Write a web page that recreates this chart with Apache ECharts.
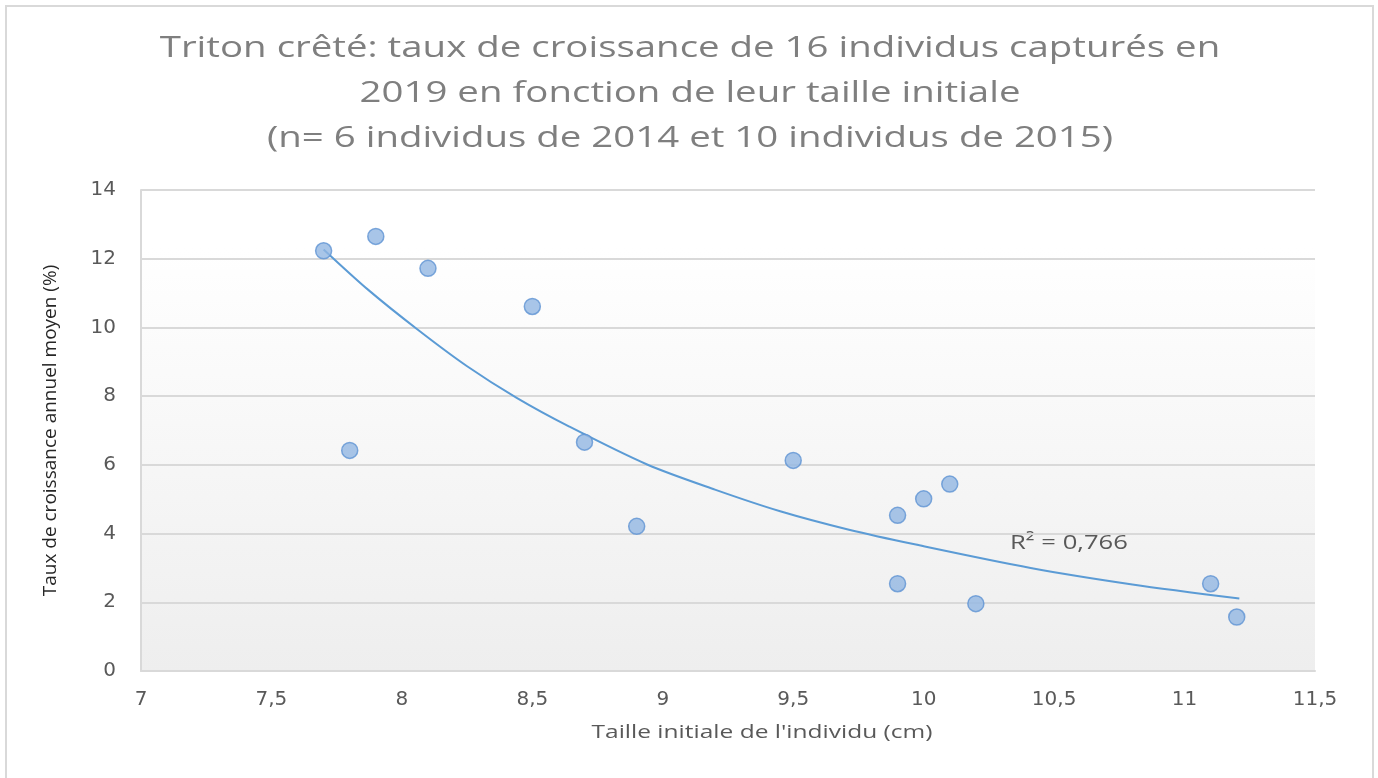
<!DOCTYPE html>
<html>
<head>
<meta charset="utf-8">
<script src="https://cdn.jsdelivr.net/npm/echarts@6/dist/echarts.min.js"></script>
<style>
  html, body { margin: 0; padding: 0; background: #fff; }
  #chart { width: 1378px; height: 778px; }
</style>
</head>
<body>
<div id="chart"></div>
<script>
// taille initiale (cm) et taux de croissance (%)
const tailles = [7.7, 7.8, 7.9, 8.1, 8.5, 8.7, 8.9, 9.5, 9.9, 9.9, 10.0, 10.1, 10.2, 11.1, 11.2];
const taux = [12.23, 6.42, 12.65, 11.72, 10.61, 6.66, 4.21, 6.13, 4.53, 2.54, 5.01, 5.44, 1.96, 2.54, 1.57];

// courbe de tendance (exponentielle)
const trendX = [7.7, 7.87, 8.06, 8.25, 8.44, 8.64, 8.94, 9.2, 9.45, 9.71, 9.97, 10.41, 10.8, 11.21];
const trendY = [12.27, 11.1, 9.94, 8.87, 7.95, 7.12, 6.01, 5.28, 4.65, 4.12, 3.68, 3.0, 2.52, 2.11];

const titleLines = [
  'Triton crêté: taux de croissance de 16 individus capturés en',
  '2019 en fonction de leur taille initiale',
  '(n= 6 individus de 2014 et 10 individus de 2015)'
];
const xName = "Taille initiale de l'individu (cm)";
const yName = 'Taux de croissance annuel moyen (%)';
const r2Label = 'R² = 0,766';

const chart = echarts.init(document.getElementById('chart'));

const fmt = v => String(v).replace('.', ',');

// le texte d'origine est plus large (police Calibri étirée)
const wideText = (text, x, y, size, color, align, sx) => ({
  type: 'text',
  x: x,
  y: y,
  scaleX: sx,
  silent: true,
  style: {
    text: text,
    x: 0,
    y: 0,
    font: size + 'px "Open Sans"',
    fill: color,
    textAlign: align,
    textVerticalAlign: 'middle',
    align: align,
    verticalAlign: 'middle'
  }
});

const option = {
  backgroundColor: '#ffffff',
  animation: false,
  graphic: [
    {
      type: 'rect',
      shape: { x: 6, y: 6, width: 1367, height: 780 },
      style: { fill: null, stroke: '#d9d9d9', lineWidth: 2 },
      silent: true
    },
    wideText(titleLines[0], 690, 48, 30, '#7f7f7f', 'center', 1.28),
    wideText(titleLines[1], 690, 93, 30, '#7f7f7f', 'center', 1.28),
    wideText(titleLines[2], 690, 138, 30, '#7f7f7f', 'center', 1.28),
    wideText(xName, 762, 733, 19, '#595959', 'center', 1.29),
    wideText(r2Label, 1010, 543, 20, '#595959', 'left', 1.28)
  ],
  grid: {
    left: 141,
    right: 63,
    top: 190,
    bottom: 107,
    show: true,
    borderWidth: 0,
    backgroundColor: new echarts.graphic.LinearGradient(0, 0, 0, 1, [
      { offset: 0, color: '#ffffff' },
      { offset: 0.12, color: '#ffffff' },
      { offset: 1, color: '#eeeeee' }
    ])
  },
  xAxis: {
    type: 'value',
    min: 7,
    max: 11.5,
    interval: 0.5,
    axisLine: { show: true, lineStyle: { color: '#d9d9d9', width: 2 } },
    axisTick: { show: false },
    splitLine: { show: false },
    axisLabel: {
      margin: 19,
      fontFamily: 'DejaVu Sans',
      fontSize: 20,
      color: '#595959',
      formatter: v => fmt(v)
    }
  },
  yAxis: {
    type: 'value',
    min: 0,
    max: 14,
    interval: 2,
    name: yName,
    nameLocation: 'middle',
    nameGap: 81,
    nameRotate: 90,
    nameTextStyle: { fontFamily: 'Open Sans', fontSize: 19, color: '#262626' },
    axisLine: { show: true, lineStyle: { color: '#d9d9d9', width: 2 } },
    axisTick: { show: false },
    splitLine: { show: true, lineStyle: { color: '#d9d9d9', width: 2 } },
    axisLabel: {
      margin: 25,
      fontFamily: 'DejaVu Sans',
      fontSize: 20,
      color: '#595959'
    }
  },
  series: [
    {
      name: 'Tendance',
      type: 'line',
      data: trendX.map((x, i) => [x, trendY[i]]),
      smooth: 0.3,
      showSymbol: false,
      lineStyle: { color: '#5b9bd5', width: 2 },
      z: 2
    },
    {
      name: 'Individus',
      type: 'scatter',
      data: tailles.map((x, i) => [x, taux[i]]),
      symbolSize: 16,
      itemStyle: {
        color: '#92b6e2',
        borderColor: '#5f93d3',
        borderWidth: 1.5
      },
      z: 3
    }
  ]
};

chart.setOption(option);
</script>
</body>
</html>
